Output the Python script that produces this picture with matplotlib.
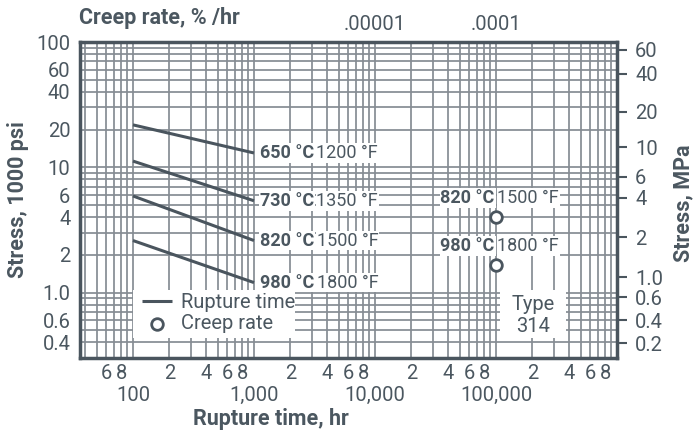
import matplotlib
matplotlib.use("Agg")
import matplotlib.pyplot as plt
import numpy as np
from matplotlib.patches import Rectangle
from matplotlib.ticker import FixedLocator, NullFormatter

plt.rcParams['font.family'] = ['Roboto', 'DejaVu Sans']

# ---------------- data ----------------
temps_c = ["650 °C", "730 °C", "820 °C", "980 °C"]
temps_f = ["1200 °F", "1350 °F", "1500 °F", "1800 °F"]
rupture_hours = [100, 1000]
rupture_stress = [
    [21.8, 13.0],
    [11.2, 5.4],
    [5.9, 2.6],
    [2.6, 1.2],
]
creep_hours = [100000, 100000]
creep_stress = [4.0, 1.66]
creep_c = ["820 °C", "980 °C"]
creep_f = ["1500 °F", "1800 °F"]

left_ticks = [100, 60, 40, 20, 10, 6, 4, 2, 1.0, 0.6, 0.4]
left_labels = ["100", "60", "40", "20", "10", "6", "4", "2", "1.0", "0.6", "0.4"]
right_ticks_ksi = [86.4, 55.7, 27.8, 14.4, 8.4, 5.7, 2.75, 1.32, 0.92, 0.60, 0.394]
right_labels = ["60", "40", "20", "10", "6", "4", "2", "1.0", "0.6", "0.4", "0.2"]
bottom_major = [100, 1000, 10000, 100000]
bottom_major_labels = ["100", "1,000", "10,000", "100,000"]
bottom_minor = [60, 80, 200, 400, 600, 800, 2000, 4000, 6000, 8000,
                20000, 40000, 60000, 80000, 200000, 400000, 600000, 800000]
bottom_minor_labels = ["6", "8", "2", "4", "6", "8", "2", "4", "6", "8",
                       "2", "4", "6", "8", "2", "4", "6", "8"]
top_ticks = [10000, 100000]
top_labels = [".00001", ".0001"]

# ---------------- style ----------------
TXT = "#4b5760"
DARK = "#4a555e"
GRID = "#858c93"
FS = 14.5
LFS = 13
TFS = 15.5

fig = plt.figure(figsize=(6.98, 4.34), dpi=100)
ax = fig.add_axes([80/698, 1-358/434, 537/698, 316/434])
ax.set_xscale("log")
ax.set_yscale("log")
xlim = (36.5, 1.0e6)
ylim = (0.3, 100)
ax.set_xlim(*xlim)
ax.set_ylim(*ylim)

# graph-paper grid
for d in [10, 100, 1000, 10000, 100000]:
    for s in range(1, 10):
        v = d * s
        if xlim[0] < v < xlim[1]:
            ax.axvline(v, color=GRID, lw=1.25, zorder=1)
for d in [0.1, 1, 10]:
    for s in range(1, 10):
        v = d * s
        if ylim[0] < v < ylim[1]:
            ax.axhline(v, color=GRID, lw=1.25, zorder=1)

for sp in ax.spines.values():
    sp.set_color(DARK)
    sp.set_linewidth(2.5)
    sp.set_zorder(10)

# rupture lines
line_handle = None
for i, st in enumerate(rupture_stress):
    (ln,) = ax.plot(rupture_hours, st, color=DARK, lw=2.2, zorder=5,
                    solid_capstyle="butt")
    line_handle = ln
    t1 = ax.annotate(temps_c[i], xy=(rupture_hours[1], st[1]),
                     xytext=(4, 0), textcoords="offset points",
                     ha="left", va="center", fontsize=LFS, fontweight="bold",
                     color=TXT, zorder=8,
                     bbox=dict(boxstyle="square,pad=0.05", fc="white", ec="none"))
    ax.annotate(temps_f[i], xy=(1, 0.5), xycoords=t1,
                xytext=(2, 0), textcoords="offset points",
                ha="left", va="center", fontsize=LFS, color=TXT, zorder=8,
                bbox=dict(boxstyle="square,pad=0.05", fc="white", ec="none"))

# creep points
pts = ax.scatter(creep_hours, creep_stress, s=70, facecolor="white",
                 edgecolor=DARK, linewidth=2, zorder=6)
for i in range(len(creep_stress)):
    t1 = ax.annotate(creep_c[i], xy=(creep_hours[i], creep_stress[i]),
                     xytext=(-40, 13.5), textcoords="offset points",
                     ha="left", va="center", fontsize=LFS, fontweight="bold",
                     color=TXT, zorder=8,
                     bbox=dict(boxstyle="square,pad=0.05", fc="white", ec="none"))
    ax.annotate(creep_f[i], xy=(1, 0.5), xycoords=t1,
                xytext=(2, 0), textcoords="offset points",
                ha="left", va="center", fontsize=LFS, color=TXT, zorder=8,
                bbox=dict(boxstyle="square,pad=0.05", fc="white", ec="none"))

# legend box
ax.add_patch(Rectangle(((133-80)/537, (358-338)/316), 162/537, 48/316,
                       transform=ax.transAxes, fc="white", ec="none", zorder=7))
leg = ax.legend([line_handle, pts], ["Rupture time", "Creep rate"],
                loc="lower left", bbox_to_anchor=((138-80)/537, (358-337)/316),
                frameon=False, fontsize=FS, handlelength=1.5, handletextpad=0.42,
                labelspacing=0.08, borderpad=0.2, borderaxespad=0.0,
                labelcolor=TXT)
leg.set_zorder(9)

# Type box
ax.add_patch(Rectangle(((500-80)/537, (358-338)/316), 66/537, 48/316,
                       transform=ax.transAxes, fc="white", ec="none", zorder=7))
ax.text((533-80)/537, (358-305)/316, "Type", transform=ax.transAxes,
        ha="center", va="center", fontsize=FS, color=TXT, zorder=9)
ax.text((533-80)/537, (358-326)/316, "314", transform=ax.transAxes,
        ha="center", va="center", fontsize=FS, color=TXT, zorder=9)

# bottom ticks
ax.xaxis.set_major_locator(FixedLocator(bottom_major))
ax.set_xticklabels(bottom_major_labels)
ax.xaxis.set_minor_locator(FixedLocator(bottom_minor))
ax.set_xticks(bottom_minor, bottom_minor_labels, minor=True)
ax.tick_params(axis="x", which="major", length=0, pad=20, labelsize=FS, labelcolor=TXT)
ax.tick_params(axis="x", which="minor", length=0, pad=4, labelsize=FS, labelcolor=TXT)

# left ticks
ax.yaxis.set_major_locator(FixedLocator(left_ticks))
ax.set_yticklabels(left_labels)
ax.yaxis.set_minor_formatter(NullFormatter())
ax.yaxis.set_minor_locator(FixedLocator([]))
ax.tick_params(axis="y", which="major", length=0, pad=7, labelsize=FS, labelcolor=TXT)

# right axis
axr = ax.twinx()
axr.set_yscale("log")
axr.set_ylim(*ylim)
axr.yaxis.set_major_locator(FixedLocator(right_ticks_ksi))
axr.set_yticklabels(right_labels)
axr.yaxis.set_minor_locator(FixedLocator([]))
axr.tick_params(axis="y", which="major", direction="out", length=7, width=1.5,
                color=DARK, pad=6, labelsize=FS, labelcolor=TXT)
for sp in axr.spines.values():
    sp.set_visible(False)

# top axis
axt = ax.twiny()
axt.set_xscale("log")
axt.set_xlim(*xlim)
axt.xaxis.set_major_locator(FixedLocator(top_ticks))
axt.set_xticklabels(top_labels)
axt.xaxis.set_minor_locator(FixedLocator([]))
axt.tick_params(axis="x", which="major", length=0, pad=6, labelsize=FS, labelcolor=TXT)
for sp in axt.spines.values():
    sp.set_visible(False)

# axis titles
fig.text(79/698, 1-18/434, "Creep rate, % /hr", ha="left", va="center",
         fontsize=TFS, fontweight="bold", color=TXT)
fig.text(18/698, 1-200/434, "Stress, 1000 psi", rotation=90, ha="center",
         va="center", fontsize=TFS, fontweight="bold", color=TXT)
fig.text(683/698, 1-203/434, "Stress, MPa", rotation=90, ha="center",
         va="center", fontsize=TFS, fontweight="bold", color=TXT)
fig.text(271/698, 1-419/434, "Rupture time, hr", ha="center", va="center",
         fontsize=TFS, fontweight="bold", color=TXT)

fig.savefig("out.png", dpi=100)
